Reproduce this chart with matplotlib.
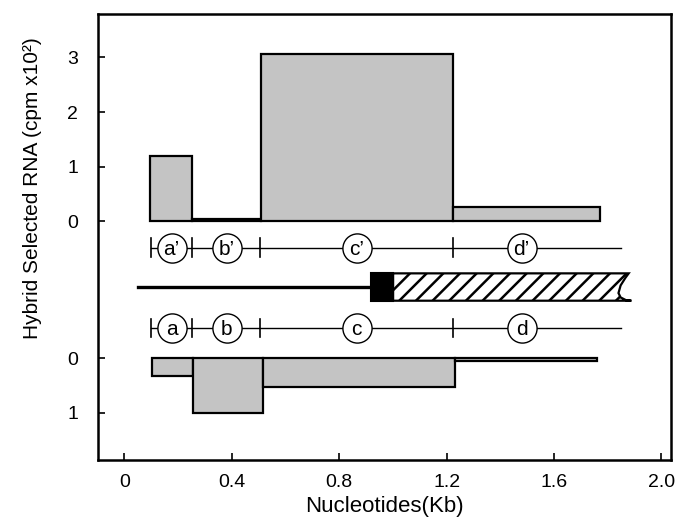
import matplotlib
matplotlib.use("Agg")
import matplotlib.pyplot as plt
from matplotlib.patches import Polygon, Rectangle
import numpy as np

plt.rcParams['font.family'] = ['Liberation Sans', 'DejaVu Sans']
plt.rcParams['hatch.linewidth'] = 1.8

# hybrid selected RNA, upper panel (a'..d') and lower panel (a..d), cpm x 10^2
up_edges = [0.097, 0.252, 0.508, 1.224, 1.770]
up_vals = [1.20, 0.05, 3.06, 0.265]
low_edges = [0.103, 0.256, 0.517, 1.231, 1.761]
low_vals = [0.32, 1.01, 0.53, 0.06]

# restriction map (Kb)
map_sites = [0.098, 0.251, 0.505, 1.224]
map_end = 1.851
frag_centers = [0.176, 0.381, 0.865, 1.479]
frag_up = ["a\u2019", "b\u2019", "c\u2019", "d\u2019"]
frag_low = ["a", "b", "c", "d"]

# gene: flanking line, black block, hatched region
gene_line = [0.052, 0.918]
gene_block = [0.918, 1.001]
gene_hatch_end = 1.878

xticks = [0, 0.4, 0.8, 1.2, 1.6, 2.0]
xticklabels = ["0", "0.4", "0.8", "1.2", "1.6", "2.0"]

OFF = 2.50      # vertical offset of lower panel zero
Y_UPMAP = -0.48
Y_GENE = -1.20
Y_LOWMAP = -1.95
GENE_H = 0.25
FILL = '#c4c4c4'

fig = plt.figure(figsize=(6.83, 5.22), dpi=100)
ax = fig.add_axes([0.143, 0.119, 0.840, 0.854])

# upper bars
uw = np.diff(up_edges)
ax.bar(up_edges[:-1], up_vals, width=uw, align='edge', bottom=0,
       color=FILL, edgecolor='black', linewidth=1.6, zorder=2)
# lower bars (hang downward)
lw_ = np.diff(low_edges)
ax.bar(low_edges[:-1], [-v for v in low_vals], width=lw_, align='edge', bottom=-OFF,
       color=FILL, edgecolor='black', linewidth=1.6, zorder=2)

# restriction maps
for ymap, labels in [(Y_UPMAP, frag_up), (Y_LOWMAP, frag_low)]:
    ax.plot([map_sites[0], map_end], [ymap, ymap], color='black', lw=1.0, zorder=3)
    for s in map_sites:
        ax.plot([s, s], [ymap - 0.17, ymap + 0.17], color='black', lw=1.2, zorder=3)
    for xc, lab in zip(frag_centers, labels):
        ax.plot(xc, ymap, marker='o', markersize=21, markerfacecolor='white',
                markeredgecolor='black', markeredgewidth=1.0, zorder=4)
        ax.text(xc, ymap - 0.03, lab, ha='center', va='center', fontsize=15, zorder=5)

# gene
ax.plot(gene_line, [Y_GENE, Y_GENE], color='black', lw=2.4, zorder=3)
ax.add_patch(Rectangle((gene_block[0], Y_GENE - GENE_H), gene_block[1] - gene_block[0],
                       2 * GENE_H, facecolor='black', edgecolor='black', lw=1.5, zorder=3))
top, bot = Y_GENE + GENE_H, Y_GENE - GENE_H
notch = [(gene_block[1], top), (gene_hatch_end, top),
         (gene_hatch_end - 0.012, top - 0.08), (gene_hatch_end - 0.03, top - 0.22),
         (gene_hatch_end - 0.038, bot + 0.14), (gene_hatch_end - 0.03, bot + 0.06),
         (gene_hatch_end - 0.01, bot + 0.01), (gene_hatch_end + 0.01, bot),
         (gene_block[1], bot)]
ax.add_patch(Polygon(notch, closed=True, facecolor='white', edgecolor='black',
                     hatch='//', lw=1.6, zorder=3))

ax.set_xlim(-0.099, 2.037)
ax.set_ylim(-4.36, 3.79)

ax.set_xticks(xticks)
ax.set_xticklabels(xticklabels, fontsize=14)
ax.set_yticks([3, 2, 1, 0, -OFF, -OFF - 1])
ax.set_yticklabels(["3", "2", "1", "0", "0", "1"], fontsize=14)
ax.tick_params(axis='both', direction='in', length=5, width=1.2)
ax.tick_params(axis='y', pad=14)
ax.tick_params(axis='x', pad=10)
for sp in ax.spines.values():
    sp.set_linewidth(1.8)

ax.set_xlabel("Nucleotides(Kb)", fontsize=16, labelpad=4)
fig.text(0.048, 0.64, "Hybrid Selected RNA (cpm x10\u00b2)", rotation=90,
         ha='center', va='center', fontsize=15)

fig.savefig("out.png", dpi=100)
